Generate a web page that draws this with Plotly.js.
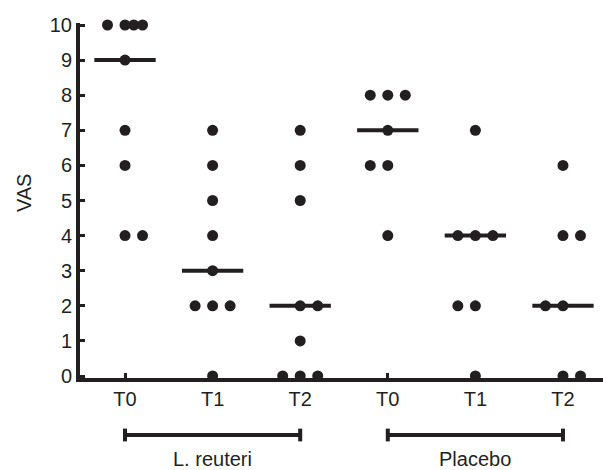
<!DOCTYPE html>
<html>
<head>
<meta charset="utf-8">
<script src="https://cdn.plot.ly/plotly-3.0.1.min.js"></script>
<style>html,body{margin:0;padding:0;background:#fff;}#chart{width:603px;height:470px;}</style>
</head>
<body>
<div id="chart"></div>
<script>
// ---- data ----
const groups = ['L. reuteri', 'Placebo'];
const timepoints = ['T0', 'T1', 'T2'];

const lreuteriT0 = [10, 10, 10, 10, 9, 7, 6, 4, 4];
const lreuteriT1 = [7, 6, 5, 4, 3, 2, 2, 2, 0];
const lreuteriT2 = [7, 6, 5, 2, 2, 1, 0, 0, 0];
const placeboT0 = [8, 8, 8, 7, 6, 6, 4];
const placeboT1 = [7, 4, 4, 4, 2, 2, 0];
const placeboT2 = [6, 4, 4, 2, 2, 0, 0];

const lreuteriMedians = [9, 3, 2];
const placeboMedians = [7, 4, 2];

// horizontal spread of coincident dots (layout only)
const lreuteriT0Spread = [-0.2, 0, 0.1, 0.2, 0, 0, 0, 0, 0.2];
const lreuteriT1Spread = [0, 0, 0, 0, 0, -0.2, 0, 0.2, 0];
const lreuteriT2Spread = [0, 0, 0, 0, 0.2, 0, -0.2, 0, 0.2];
const placeboT0Spread = [-0.2, 0, 0.2, 0, -0.2, 0, 0];
const placeboT1Spread = [0, -0.2, 0, 0.2, -0.2, 0, 0];
const placeboT2Spread = [0, 0, 0.2, -0.2, 0, 0, 0.2];

// ---- build ----
const ink = '#231f20';
const font = 'Liberation Sans, Arial, Helvetica, sans-serif';
const columns = [
  [lreuteriT0, lreuteriT0Spread], [lreuteriT1, lreuteriT1Spread], [lreuteriT2, lreuteriT2Spread],
  [placeboT0, placeboT0Spread], [placeboT1, placeboT1Spread], [placeboT2, placeboT2Spread]
];
const medians = lreuteriMedians.concat(placeboMedians);
const tickText = [];
groups.forEach(() => timepoints.forEach(t => tickText.push(t)));
const tickVals = tickText.map((_, i) => i);

const half = 0.35;
const mx = [], my = [];
medians.forEach((m, i) => { mx.push(i - half, i + half, null); my.push(m, m, null); });

const traces = [{
  type: 'scatter', mode: 'lines', x: mx, y: my,
  line: {color: ink, width: 4}, hoverinfo: 'skip', cliponaxis: false
}];
columns.forEach(([vals, spread], i) => {
  traces.push({
    type: 'scatter', mode: 'markers',
    x: vals.map((_, k) => i + spread[k]), y: vals,
    marker: {size: 11, color: ink}, cliponaxis: false
  });
});

const shapes = [];
const annotations = [];
const nT = timepoints.length;
const yBar = -0.1606, cap = 0.018;
groups.forEach((g, gi) => {
  const x0 = gi * nT, x1 = gi * nT + nT - 1;
  shapes.push({type: 'line', xref: 'x', yref: 'paper', x0: x0, x1: x1, y0: yBar, y1: yBar,
               line: {color: ink, width: 4}});
  [x0, x1].forEach(xx => shapes.push({type: 'line', xref: 'x', yref: 'paper', x0: xx, x1: xx,
               y0: yBar - cap, y1: yBar + cap, line: {color: ink, width: 4}}));
  annotations.push({xref: 'x', yref: 'paper', x: (x0 + x1) / 2, y: -0.228, text: g,
               showarrow: false, xanchor: 'center', yanchor: 'middle',
               font: {family: font, size: 20, color: ink}});
});
annotations.push({xref: 'paper', yref: 'paper', x: -0.107, y: 0.521, text: 'VAS', textangle: -90,
  showarrow: false, xanchor: 'center', yanchor: 'middle', font: {family: font, size: 20, color: ink}});

const layout = {
  width: 603, height: 470,
  margin: {l: 80, r: 0, t: 23, b: 92},
  paper_bgcolor: '#fff', plot_bgcolor: '#fff',
  showlegend: false,
  font: {family: font, color: ink, size: 20},
  xaxis: {
    range: [-0.514, 5.457], tickvals: tickVals, ticktext: tickText,
    showline: true, linewidth: 4, linecolor: ink,
    ticks: 'inside', ticklen: 5, tickwidth: 3, tickcolor: ink,
    showgrid: false, zeroline: false, tickfont: {family: font, size: 20, color: ink}
  },
  yaxis: {
    range: [-0.057, 10.057], tickvals: [0,1,2,3,4,5,6,7,8,9,10],
    showline: true, linewidth: 4, linecolor: ink,
    ticks: 'inside', ticklen: 5, tickwidth: 3, tickcolor: ink,
    showgrid: false, zeroline: false, tickfont: {family: font, size: 20, color: ink}
  },
  shapes: shapes,
  annotations: annotations
};

Plotly.newPlot('chart', traces, layout, {displayModeBar: false, staticPlot: true});
</script>
</body>
</html>
